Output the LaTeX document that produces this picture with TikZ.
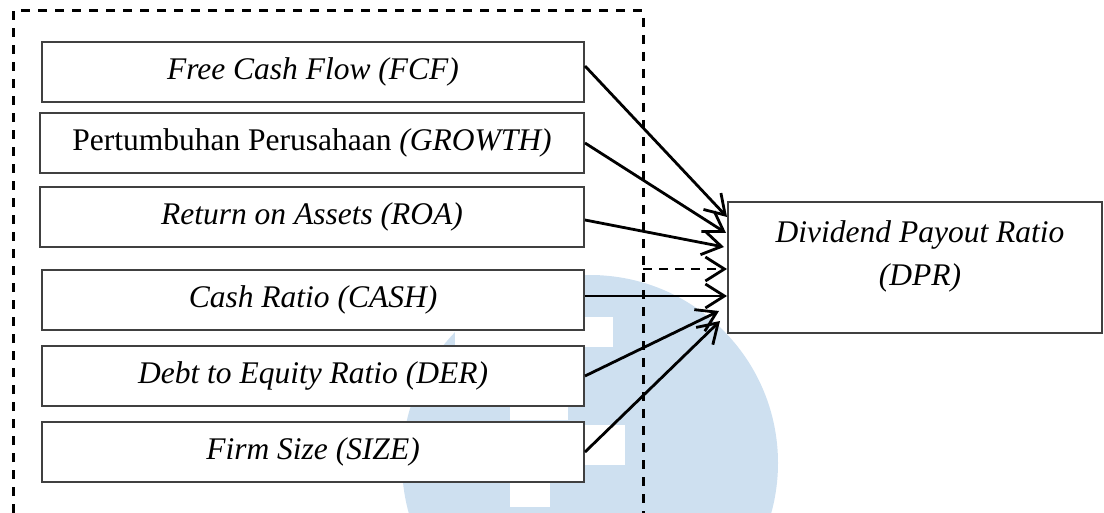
\documentclass[tikz,border=0pt]{standalone}
\usepackage{fontspec}
\setmainfont{Liberation Serif}
\usetikzlibrary{arrows.meta,calc}
\definecolor{wm}{RGB}{206,224,240}
\begin{document}
\begin{tikzpicture}[x=1pt,y=-1pt,
  box/.style={draw=black!75, line width=2pt, fill=white, inner sep=0pt,
    font=\fontsize{31.5}{38}\selectfont\itshape},
  frame/.style={line width=3pt, dash pattern=on 9pt off 8pt},
  arr/.style={-{Straight Barb[length=19pt,width=24pt,line width=2.8pt]}, line width=2.8pt},
  darr/.style={arr, dash pattern=on 9pt off 7pt},
  lbl/.style={inner sep=0pt, align=center, font=\fontsize{31.5}{43}\selectfont\itshape}
]
\useasboundingbox (0,0) rectangle (1104,513);
% watermark
\begin{scope}
  \clip (0,0) rectangle (1104,513);
  \fill[wm] (590,463) circle[radius=188];
  \fill[white] (455,317) rectangle (613,347);
  \fill[white] (510,405) rectangle (568,420);
  \fill[white] (582,425) rectangle (625,465);
  \fill[white] (510,482) rectangle (550,507);
\end{scope}
% dashed frame
\coordinate (f1) at (13,513);
\coordinate (f2) at (13,11);
\coordinate (f3) at (643,11);
\coordinate (f4) at (643,513);
\coordinate (fb) at (643,269);
\draw[frame] (f1) -- (f2) -- (f3) -- (f4);
% boxes
\node[box, minimum width=542, minimum height=60] (fcf) at (313,72) {Free Cash Flow (FCF)};
\node[box, minimum width=544, minimum height=60] (gro) at (312,143) {\upshape Pertumbuhan Perusahaan \itshape(GROWTH)};
\node[box, minimum width=544, minimum height=60] (roa) at (312,217) {Return on Assets (ROA)};
\node[box, minimum width=542, minimum height=60] (cash) at (313,300) {Cash Ratio (CASH)};
\node[box, minimum width=542, minimum height=60] (der) at (313,376) {Debt to Equity Ratio (DER)};
\node[box, minimum width=542, minimum height=60] (size) at (313,452) {Firm Size (SIZE)};
\node[box, minimum width=374, minimum height=131] (dpr) at (915,267.5) {};
\node[lbl] (dprl) at (920,256) {Dividend Payout Ratio\\(DPR)};
% arrow tips
\coordinate (t1) at (727,217);
\coordinate (t2) at (726,233);
\coordinate (t3) at (724,247);
\coordinate (t4) at (727,269);
\coordinate (t5) at (727,296);
\coordinate (t6) at (719,311);
\coordinate (t7) at (720,321);
\draw[arr] ($(fcf.east)+(0,-6)$) -- (t1);
\draw[arr] (gro.east) -- (t2);
\draw[arr] ($(roa.east)+(0,3)$) -- (t3);
\draw[darr] (fb) -- (t4);
\draw[arr] ($(cash.east)+(0,-4)$) -- (t5);
\draw[arr] (der.east) -- (t6);
\draw[arr] (size.east) -- (t7);
\end{tikzpicture}
\end{document}
